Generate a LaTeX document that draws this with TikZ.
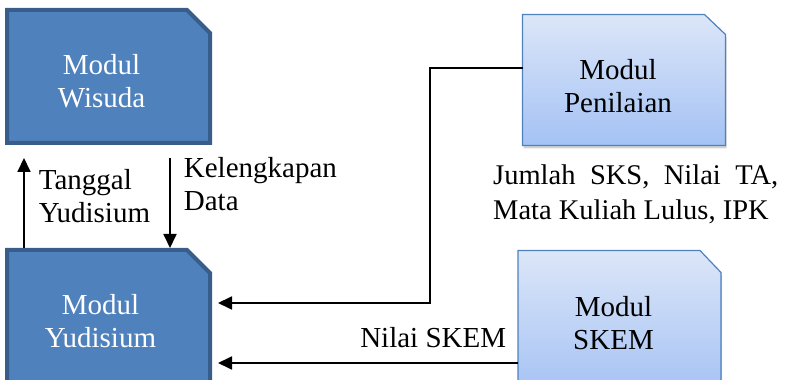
\documentclass[tikz,border=0pt]{standalone}
\usepackage{fontspec}
\setmainfont{Liberation Serif}
\usetikzlibrary{arrows.meta,shadows,backgrounds}

\definecolor{modblue}{HTML}{4F81BD}
\definecolor{modedge}{HTML}{385D8A}
\definecolor{modtop}{HTML}{DCE6F8}
\definecolor{modbottom}{HTML}{A4C2F4}

\tikzset{
  modbox/.style={rectangle, inner sep=0pt, outer sep=0pt, minimum width=203pt},
  modtext/.style={align=center},
  darkshape/.style={fill=modblue, draw=modedge, line width=4pt},
  lightshape/.style={draw=modblue, line width=1.2pt, top color=modtop, bottom color=modbottom,
    drop shadow={shadow xshift=1pt, shadow yshift=-3pt, opacity=0.35}},
  flow/.style={line width=1.8pt, -{Triangle[length=14pt,width=13pt]}},
}

\begin{document}
\begin{tikzpicture}[x=1pt, y=1pt, font=\fontsize{29}{33}\selectfont]
\useasboundingbox (0,0) rectangle (787,380);

\node[modbox, minimum height=133pt,
  label={[modtext, text=white, xshift=-7pt, yshift=-4.5pt]center:{Modul\\Wisuda}}] (wisuda) at (108.5,303.5) {};
\node[modbox, minimum height=142pt,
  label={[modtext, text=white, xshift=-8pt]center:{Modul\\Yudisium}}] (yudisium) at (108.5,59) {};
\node[modbox, minimum height=131pt,
  label={[modtext, xshift=-6pt, yshift=-6.5pt]center:{Modul\\Penilaian}}] (penilaian) at (624,300) {};
\node[modbox, minimum height=145pt,
  label={[modtext, xshift=-6pt]center:{Modul\\SKEM}}] (skem) at (619.5,57) {};

\begin{scope}[on background layer]
\path[darkshape] (wisuda.south west) |- ([xshift=-23pt]wisuda.north east) -- ([yshift=-23pt]wisuda.north east) -- (wisuda.south east) -- cycle;
\path[darkshape] (yudisium.south west) |- ([xshift=-23pt]yudisium.north east) -- ([yshift=-23pt]yudisium.north east) -- (yudisium.south east) -- cycle;
\path[lightshape] (penilaian.south west) |- ([xshift=-21pt]penilaian.north east) -- ([yshift=-20pt]penilaian.north east) -- (penilaian.south east) -- cycle;
\path[lightshape] (skem.south west) |- ([xshift=-21pt]skem.north east) -- ([yshift=-22pt]skem.north east) -- (skem.south east) -- cycle;
\end{scope}

\draw[flow] ([xshift=-84.5pt,yshift=2pt]yudisium.north) -- ([xshift=-84.5pt,yshift=-15pt]wisuda.south)
  node[pos=0.58, anchor=west, align=left, inner xsep=14pt, inner ysep=0pt] (tanggal) {Tanggal\\Yudisium};
\draw[flow] ([xshift=61.5pt,yshift=-15pt]wisuda.south) -- ([xshift=61.5pt,yshift=2pt]yudisium.north)
  node[pos=0.29, anchor=west, align=left, inner xsep=13pt, inner ysep=0pt] (kelengkapan) {Kelengkapan\\Data};

\node[anchor=north west, text width=285pt, align=justify, inner sep=0pt,
  font=\fontsize{28.5}{35}\selectfont] (jumlah) at ([xshift=-131pt,yshift=-19pt]penilaian.south)
  {Jumlah SKS, Nilai TA,\linebreak Mata Kuliah Lulus, IPK};

\coordinate (turn) at (430,77);
\draw[flow, shorten >=8pt] ([yshift=12pt]penilaian.west) -| (turn) -- (yudisium.east |- turn);

\coordinate (skemin) at (0,17);
\draw[flow, shorten >=8pt] (skem.west |- skemin) -- (yudisium.east |- skemin)
  node[pos=0, anchor=base east, inner sep=0pt, xshift=-11pt, yshift=15pt] (nilaiskem) {Nilai SKEM};
\end{tikzpicture}
\end{document}
